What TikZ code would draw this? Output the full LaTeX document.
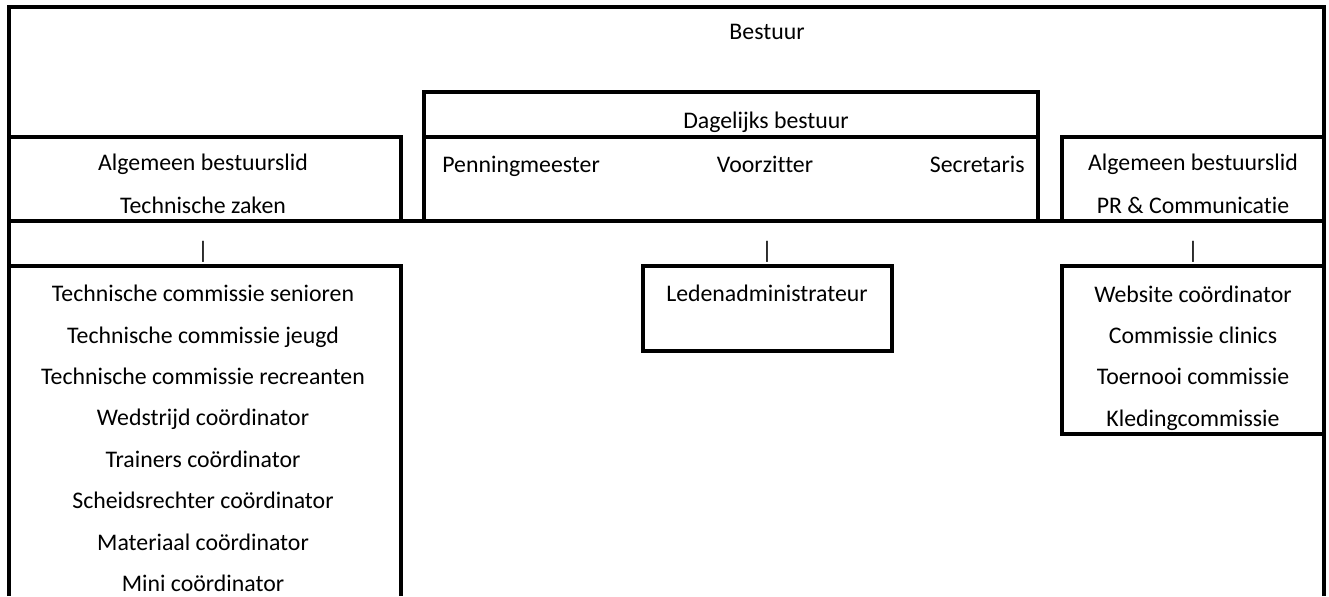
\documentclass[tikz,border=0pt]{standalone}
\usepackage{fontspec}
\setmainfont{Carlito}[Ligatures=NoCommon]
\usetikzlibrary{positioning}

\begin{document}
\begin{tikzpicture}[
        x=0.5pt, y=-0.5pt,
        font=\fontsize{11.9pt}{20.7pt}\selectfont,
        frame line/.style={draw=black, line width=1.6pt},
        label node/.style={inner sep=0pt, text height=7.66pt, text depth=0pt},
        list node/.style={inner sep=0pt, align=center},
        pair node/.style={list node, font=\fontsize{11.9pt}{21.5pt}\selectfont}
    ]
    \useasboundingbox (0,0) rectangle (1329,596);

    % Outer frame (open at the bottom)
    \draw[frame line] (9,596) -- (9,7) -- (1324,7) -- (1324,596);
    \draw[frame line] (9,221) -- (1324,221);

    % Top row cells
    \draw[frame line] (9,137) -- (401,137) -- (401,221);
    \draw[frame line] (424,92) rectangle (1038,221);
    \draw[frame line] (424,137) -- (1038,137);
    \draw[frame line] (1062,221) -- (1062,137) -- (1324,137);

    % Lower boxes
    \draw[frame line] (9,266) -- (401,266) -- (401,596);
    \draw[frame line] (643,266) rectangle (892,351);
    \draw[frame line] (1324,266) -- (1062,266) -- (1062,434) -- (1324,434);

    % Board
    \node[label node] (bestuur) at (767,32) {Bestuur};
    \node[label node] (dagelijks) at (766,121) {Dagelijks bestuur};
    \node[label node, anchor=west] (penning) at (442,165) {Penningmeester};
    \node[label node] (voorzitter) at (765,165) {Voorzitter};
    \node[label node, anchor=east] (secretaris) at (1025,165) {Secretaris};
    \node[pair node] (techzaken) at (203,184) {Algemeen bestuurslid\\Technische zaken};
    \node[pair node] (prcomm) at (1193,184) {Algemeen bestuurslid\\PR \& Communicatie};

    % Separators
    \node[label node] (bar left) at (203,251) {|};
    \node[label node] (bar mid) at (767,251) {|};
    \node[label node] (bar right) at (1193,251) {|};

    % Commissions
    \node[list node] (techlist) at (203,438.5) {Technische commissie senioren\\Technische commissie jeugd\\Technische commissie recreanten\\Wedstrijd coördinator\\Trainers coördinator\\Scheidsrechter coördinator\\Materiaal coördinator\\Mini coördinator};
    \node[label node] (leden) at (767,294) {Ledenadministrateur};
    \node[list node] (prlist) at (1193,358) {Website coördinator\\Commissie clinics\\Toernooi commissie\\Kledingcommissie};

\end{tikzpicture}
\end{document}
